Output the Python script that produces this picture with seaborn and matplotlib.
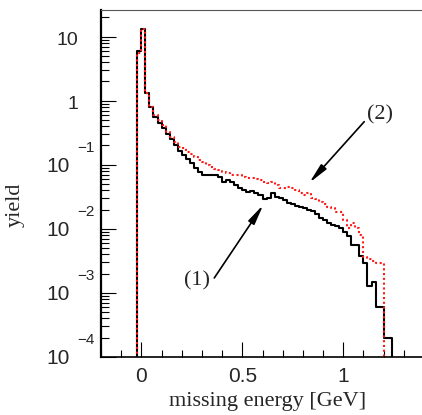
import numpy as np
import pandas as pd
import seaborn as sns
import matplotlib.pyplot as plt
from matplotlib import transforms
from matplotlib.ticker import FixedLocator, MultipleLocator, LogLocator, NullFormatter

# histogram binning (GeV)
bin_width = 0.02
first_edge = -0.02

# yield per bin, first bin starts at -0.02 GeV
yield_1 = [5.9, 13.0, 1.33, 0.80, 0.56, 0.45, 0.38, 0.30, 0.25, 0.20,
           0.165, 0.14, 0.125, 0.105, 0.09, 0.078, 0.07, 0.068, 0.07, 0.068,
           0.065, 0.054, 0.058, 0.054, 0.049, 0.044, 0.041, 0.038, 0.039, 0.036,
           0.034, 0.029, 0.030, 0.036, 0.031, 0.030, 0.028, 0.025, 0.024, 0.023,
           0.022, 0.021, 0.020, 0.019, 0.017, 0.015, 0.0138, 0.0125, 0.0116, 0.0112,
           0.0104, 0.0089, 0.0078, 0.0056, 0.0056, 0.0038, 0.0029, 0.0013, 0.0015, 0.0006,
           0.0006, 0.0002, 0.0002]
yield_2 = [5.5, 13.0, 1.30, 0.80, 0.60, 0.50, 0.41, 0.32, 0.27, 0.23,
           0.19, 0.18, 0.16, 0.145, 0.13, 0.12, 0.11, 0.10, 0.093, 0.087,
           0.084, 0.078, 0.075, 0.070, 0.070, 0.070, 0.065, 0.062, 0.062, 0.060,
           0.058, 0.054, 0.052, 0.054, 0.049, 0.044, 0.044, 0.045, 0.044, 0.041,
           0.036, 0.034, 0.036, 0.030, 0.029, 0.026, 0.024, 0.022, 0.021, 0.018,
           0.018, 0.0138, 0.0104, 0.0125, 0.0104, 0.0081, 0.0037, 0.0034, 0.0032, 0.0029,
           0.0029]

x_ticks = [0, 0.5, 1]
x_tick_labels = ['0', '0.5', '1']
y_ticks = [1e-4, 1e-3, 1e-2, 1e-1, 1, 10]

sns.set_theme(style='ticks')
plt.rcParams['font.family'] = ['Liberation Sans', 'DejaVu Sans']

# pad with an empty bin on each side so the step outline drops to the axis
n = max(len(yield_1), len(yield_2)) + 2
edges = first_edge - bin_width + bin_width * np.arange(n + 1)
centers = edges[:-1] + bin_width / 2

def padded(vals):
    out = np.zeros(n)
    out[1:1 + len(vals)] = vals
    return out

df = pd.DataFrame({'energy': np.tile(centers, 2),
                   'yield': np.concatenate([padded(yield_1), padded(yield_2)]),
                   'model': ['(1)'] * n + ['(2)'] * n})

fig = plt.figure(figsize=(4.22, 4.15), dpi=100)
ax = fig.add_axes([101 / 422, 58 / 415, 323 / 422, 347 / 415])

sns.histplot(data=df[df.model == '(1)'], x='energy', weights='yield', bins=list(edges),
             element='step', fill=False, color='black', lw=1.5, ax=ax)
sns.histplot(data=df[df.model == '(2)'], x='energy', weights='yield', bins=list(edges),
             element='step', fill=False, color='#ff1a1a', lw=1.5,
             linestyle=(0, (1, 1.3)), ax=ax)

ax.set_yscale('log')
ax.set_xlim(-0.2, 1.4)
ax.set_ylim(1e-4, 26)

# ROOT-like frame and ticks
for s in ['left', 'bottom']:
    ax.spines[s].set_color('black')
ax.spines['left'].set_linewidth(1.6)
ax.spines['bottom'].set_linewidth(1.2)
ax.spines['top'].set_visible(True)
ax.spines['top'].set_color('#555555')
ax.spines['top'].set_linewidth(0.8)
ax.spines['right'].set_visible(False)

ax.xaxis.set_major_locator(FixedLocator(x_ticks))
ax.set_xticklabels(x_tick_labels)
ax.xaxis.set_minor_locator(MultipleLocator(0.1))
ax.tick_params(axis='x', which='major', direction='in', length=11, width=0.8,
               labelsize=15, pad=7, color='black')
ax.tick_params(axis='x', which='minor', direction='in', length=5, width=0.8, color='black')

ax.yaxis.set_major_locator(FixedLocator(y_ticks))
ax.yaxis.set_minor_locator(LogLocator(base=10, subs=np.arange(2, 10)))
ax.yaxis.set_major_formatter(NullFormatter())
ax.yaxis.set_minor_formatter(NullFormatter())
ax.tick_params(axis='y', which='major', direction='in', length=11, width=0.8, color='black')
ax.tick_params(axis='y', which='minor', direction='in', length=6, width=0.8, color='black')

# y tick labels in ROOT style: "10" with a raised exponent
blend = transforms.blended_transform_factory(ax.transAxes, ax.transData)
for v in y_ticks:
    e = int(round(np.log10(v)))
    if e >= 0:
        t = transforms.offset_copy(blend, fig=fig, x=-23, y=-8, units='dots')
        ax.text(0, v, str(int(v)), transform=t, ha='right', va='baseline', fontsize=14)
    else:
        tb = transforms.offset_copy(blend, fig=fig, x=-31, y=-7, units='dots')
        ax.text(0, v, '10', transform=tb, ha='right', va='baseline', fontsize=15)
        te = transforms.offset_copy(blend, fig=fig, x=-24, y=13, units='dots')
        ax.text(0, v, '\u2212' + str(-e), transform=te, ha='left', va='baseline', fontsize=11)

serif = ['Liberation Serif', 'DejaVu Serif']
ax.set_xlabel('missing energy [GeV]', fontsize=16, family=serif)
ax.xaxis.set_label_coords(0.517, -0.10)
ax.set_ylabel('yield', fontsize=16, family=serif)
ax.yaxis.set_label_coords(-0.235, 0.44)

arrow = dict(arrowstyle='-|>,head_length=1.0,head_width=0.18', color='black', lw=1.2,
             shrinkA=0, shrinkB=0)
ax.annotate('', xy=(0.604, 0.0237), xytext=(0.361, 1.71e-3), arrowprops=arrow)
ax.text(0.277, 1.54e-3, '(1)', ha='center', va='center', fontsize=16, family=serif)
ax.annotate('', xy=(0.832, 0.0523), xytext=(1.104, 0.47), arrowprops=arrow)
ax.text(1.183, 0.60, '(2)', ha='center', va='center', fontsize=16, family=serif)

fig.savefig('out.png', dpi=100)
